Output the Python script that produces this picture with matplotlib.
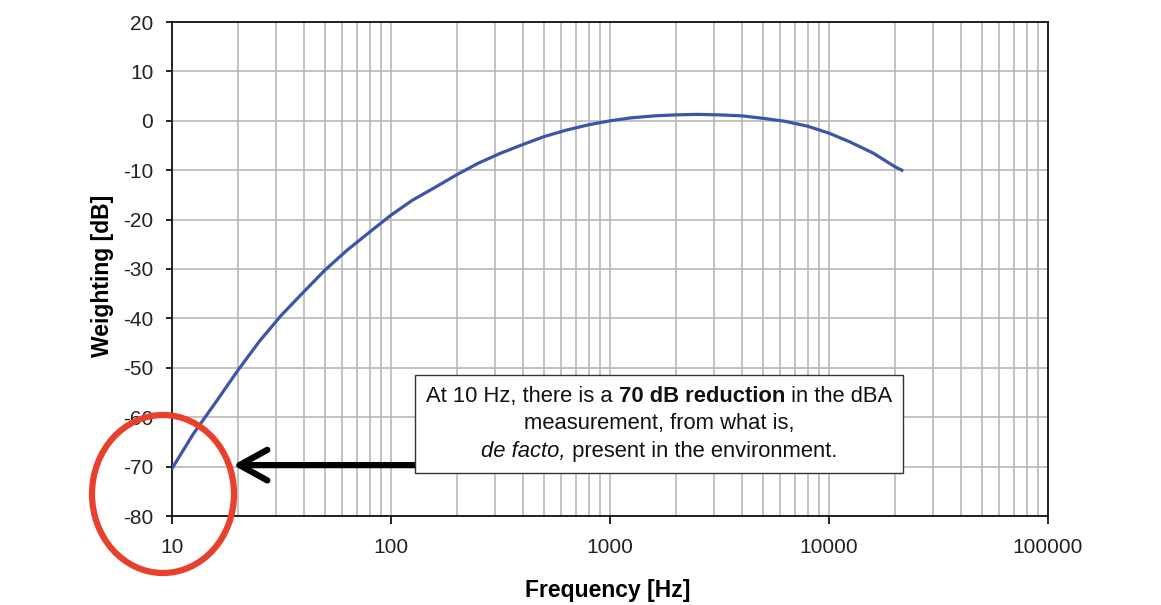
import matplotlib.pyplot as plt
import numpy as np
from matplotlib.patches import Ellipse
from matplotlib.offsetbox import TextArea, HPacker, VPacker, AnnotationBbox
from matplotlib.ticker import LogLocator, NullFormatter, FuncFormatter

# A-weighting curve (1/3-octave points)
freq = [10, 12.5, 16, 20, 25, 31.5, 40, 50, 63, 80, 100, 125, 160, 200, 250,
        315, 400, 500, 630, 800, 1000, 1250, 1600, 2000, 2500, 3150, 4000,
        5000, 6300, 8000, 10000, 12500, 16000, 20000, 21500]
weight = [-70.4, -63.4, -56.7, -50.5, -44.7, -39.4, -34.6, -30.2, -26.2, -22.5,
          -19.1, -16.1, -13.4, -10.9, -8.6, -6.6, -4.8, -3.2, -1.9, -0.8,
          0.0, 0.6, 1.0, 1.2, 1.3, 1.2, 1.0, 0.5, -0.1, -1.1,
          -2.5, -4.3, -6.6, -9.3, -10.0]

y_ticks = list(range(-80, 21, 10))
arrow_tip = (19, -69.7)
arrow_tail = (128, -69.7)

plt.rcParams['font.family'] = ['Liberation Sans', 'DejaVu Sans']
plt.rcParams['axes.unicode_minus'] = False

fig = plt.figure(figsize=(11.61, 6.05), dpi=100)
ax = fig.add_axes([172 / 1161, 89 / 605, 876 / 1161, 494 / 605])

ax.plot(freq, weight, color='#3d55a8', lw=2.3, zorder=3)

ax.set_xscale('log')
ax.set_xlim(10, 100000)
ax.set_ylim(-80, 20)
ax.set_yticks(y_ticks)
ax.xaxis.set_minor_locator(LogLocator(base=10, subs=np.arange(2, 10)))
ax.xaxis.set_minor_formatter(NullFormatter())
ax.xaxis.set_major_formatter(FuncFormatter(lambda v, p: f'{v:.0f}'))

ax.grid(which='both', color='#b8b8b8', lw=1.2)
ax.set_axisbelow(True)
ax.tick_params(which='minor', length=0)
ax.tick_params(which='major', width=1.2, color='black',
               labelsize=15, labelcolor='#222222')
ax.tick_params(axis='x', which='major', length=6, pad=10)
ax.tick_params(axis='y', which='major', length=4.5, pad=9)
for s in ax.spines.values():
    s.set_color('#111111')
    s.set_linewidth(1.3)

fig.text(102 / 1161, 1 - 276 / 605, 'Weighting [dB]', rotation=90,
         ha='center', va='center', fontsize=16.5, weight='bold')
fig.text(608 / 1161, 1 - 591 / 605, 'Frequency [Hz]', ha='center',
         va='center', fontsize=16.5, weight='bold')

# arrow pointing to 10 Hz
ax.annotate('', xy=arrow_tip, xytext=arrow_tail,
            arrowprops=dict(arrowstyle='->,head_length=1.0,head_width=0.55',
                            lw=4.5, color='black', shrinkA=0, shrinkB=0,
                            mutation_scale=20), zorder=4)

# text box with mixed bold / italic
fs = 15.8
tp = dict(fontsize=fs, color='#111111')
line1 = HPacker(children=[
    TextArea('At 10 Hz, there is a ', textprops=tp),
    TextArea('70 dB reduction', textprops=dict(tp, weight='bold')),
    TextArea(' in the dBA', textprops=tp)], align='baseline', pad=0, sep=0)
line2 = TextArea('measurement, from what is,', textprops=tp)
line3 = HPacker(children=[
    TextArea('de facto,', textprops=dict(tp, style='italic')),
    TextArea(' present in the environment.', textprops=tp)],
    align='baseline', pad=0, sep=0)
box = VPacker(children=[line1, line2, line3], align='center', pad=0, sep=5)
ab = AnnotationBbox(box, (659, 605 - 424), xycoords='figure pixels',
                    frameon=True, box_alignment=(0.5, 0.5),
                    bboxprops=dict(edgecolor='#333333', facecolor='white',
                                   lw=1.0, boxstyle='square,pad=0.78'))
ab.set_zorder(5)
fig.add_artist(ab)

# red circle around the 10 Hz end
circ = Ellipse((163 / 100, (605 - 494) / 100), 142 / 100, 158 / 100,
               transform=fig.dpi_scale_trans, fill=False,
               edgecolor='#e8402d', lw=4.5, zorder=6)
fig.add_artist(circ)

fig.savefig('out.png', dpi=100)
